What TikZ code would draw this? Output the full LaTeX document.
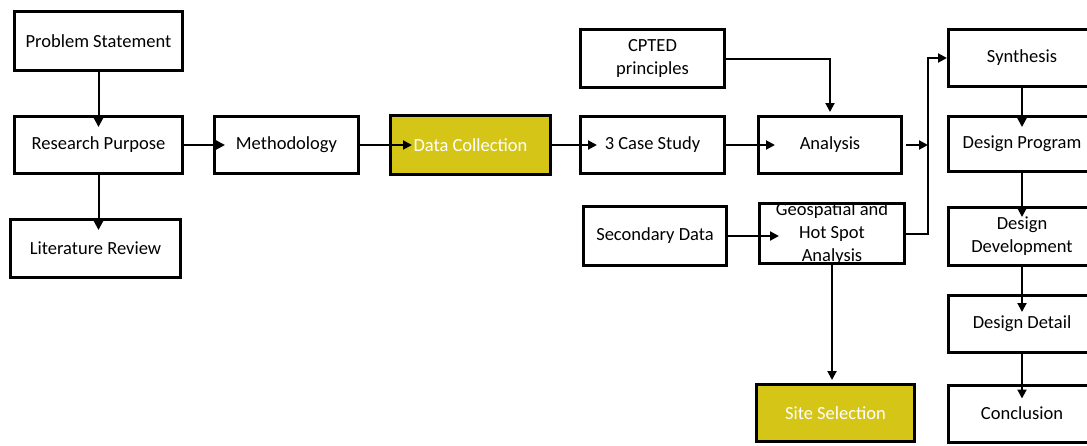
\documentclass[tikz,border=0pt]{standalone}
\usepackage{fontspec}
\setmainfont{Carlito}
\usetikzlibrary{arrows.meta}
\definecolor{dcyellow}{RGB}{212,197,23}
\begin{document}
\begin{tikzpicture}[x=1pt, y=-1pt,
    box/.style={draw, line width=3pt, fill=white, inner sep=0pt, align=center,
      font=\fontsize{18.5}{23}\selectfont},
    hibox/.style={box, fill=dcyellow, text=white},
    arr/.style={line width=2pt, -{Triangle[length=9pt,width=9pt]}}]
  \useasboundingbox (0,0) rectangle (1087,445);
  \clip (0,0) rectangle (1087,445);
  % left column
  \node[box, minimum width=168pt, minimum height=59pt] (ps) at (98.5,41) {Problem Statement};
  \node[box, minimum width=168pt, minimum height=57pt] (rp) at (98.5,145) {Research Purpose};
  \node[box, minimum width=170pt, minimum height=58pt] (lr) at (95.5,248.5) {Literature Review};
  \node[box, minimum width=144pt, minimum height=57pt] (meth) at (286.5,145) {Methodology};
  \node[hibox, minimum width=160pt, minimum height=59pt] (dc) at (470.5,145) {Data Collection};
  % middle
  \node[box, minimum width=144pt, minimum height=58pt] (cpted) at (652.5,58.5) {CPTED\\principles};
  \node[box, minimum width=144pt, minimum height=57pt] (cs) at (652.5,145) {3 Case Study};
  \node[box, minimum width=143pt, minimum height=59pt] (sd) at (655,236) {Secondary Data};
  \node[box, minimum width=143pt, minimum height=57pt] (an) at (830,145) {Analysis};
  \node[box, minimum width=145pt, minimum height=60pt,
    label={[font=\fontsize{18.5}{23}\selectfont, align=center]center:Geospatial and\\Hot Spot\\Analysis}]
    (geo) at (832,233.5) {};
  \node[hibox, minimum width=158pt, minimum height=57pt] (site) at (835.5,413) {Site Selection};
  % right column
  \node[box, minimum width=147pt, minimum height=57pt] (syn) at (1022,58) {Synthesis};
  \node[box, minimum width=147pt, minimum height=55pt] (dp) at (1022,144) {Design Program};
  \node[box, minimum width=147pt, minimum height=58pt] (dd) at (1022,236.5) {Design\\Development};
  \node[box, minimum width=147pt, minimum height=57pt] (det) at (1022,324) {Design Detail};
  \node[box, minimum width=147pt, minimum height=57pt] (con) at (1022,413.5) {Conclusion};
  \coordinate (bus) at (928,145);
  % connectors
  \draw[arr, shorten >=-12pt] (ps) -- (rp);
  \draw[arr, shorten >=-12pt] (rp.south) -- (rp.south |- lr.north);
  \draw[arr, shorten >=-12pt] (rp) -- (meth);
  \draw[arr, shorten >=-23pt] (meth) -- (dc);
  \draw[arr, shorten >=-18pt] (dc) -- (cs);
  \draw[arr, shorten >=-18pt] (cs) -- (an);
  \draw[arr, shorten >=3pt] (cpted.east) -| (an.north);
  \draw[arr, shorten >=-21pt] (sd.east) -- (sd.east -| geo.west);
  \draw[arr, shorten <=3pt] (an.east) -- (bus);
  \draw[arr] (geo.east) -| (bus |- syn.west) -- (syn.west);
  \draw[arr, shorten >=3pt] (geo.south) -- (geo.south |- site.north);
  \draw[arr, shorten >=-12pt] (syn) -- (dp);
  \draw[arr, shorten >=-11pt] (dp) -- (dd);
  \draw[arr, shorten >=-18pt] (dd) -- (det);
  \draw[arr, shorten >=-15pt] (det) -- (con);
\end{tikzpicture}
\end{document}
